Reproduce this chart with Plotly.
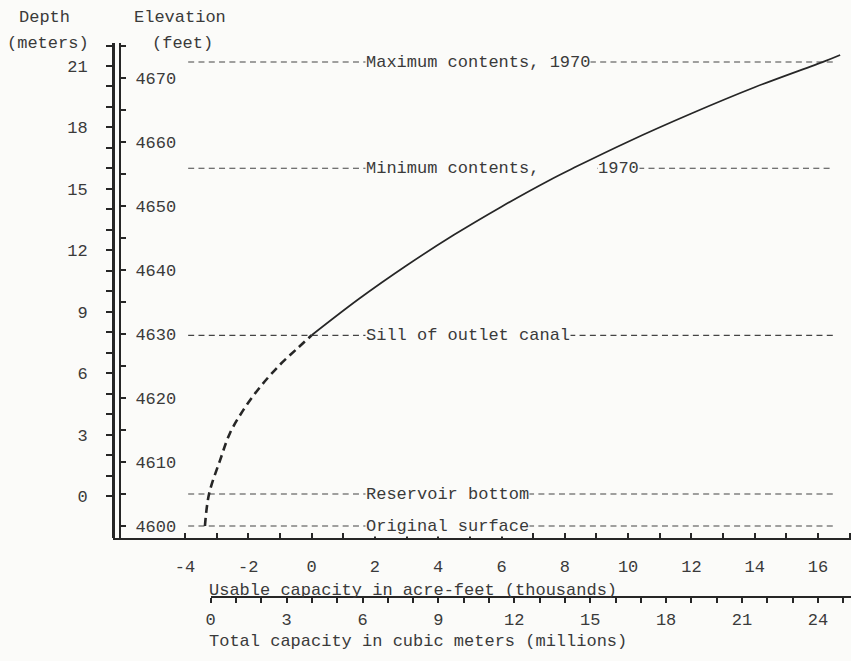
import plotly.graph_objects as go

# ---------------- data ----------------
# capacity curve: usable capacity (thousand acre-feet) vs elevation (feet)
usable_dashed = [-3.37, -3.24, -2.89, -2.58, -2.16, -1.63, -1.00, -0.46, 0.0]
elev_dashed = [4600.0, 4605.0, 4610.3, 4614.5, 4618.1, 4621.7, 4625.2, 4627.7, 4629.8]

usable_solid = [0.0, 1.5, 3.0, 4.5, 6.0, 7.5, 8.3, 10.0, 12.0, 14.0, 16.2, 16.7]
elev_solid = [4629.8, 4635.5, 4640.7, 4645.5, 4649.9, 4654.0, 4656.0, 4660.05, 4664.45, 4668.55, 4672.6, 4673.6]

# reference levels (elevation, feet)
ref_labels = ["Maximum contents, 1970", "Minimum contents,", "Sill of outlet canal",
              "Reservoir bottom", "Original surface"]
ref_elev = [4672.5, 4655.9, 4629.8, 4605.0, 4600.0]
ref_extra_label = "1970"          # second part of the minimum-contents label
ref_start, ref_end = -3.9, 16.5   # extent of the reference lines (usable capacity)

# ticks
usable_ticks = list(range(-4, 18))
usable_ticktext = [str(v) if v % 2 == 0 else "" for v in usable_ticks]
total_ticks = list(range(0, 26))
total_ticktext = [str(v) if v % 3 == 0 else "" for v in total_ticks]
elev_ticks = list(range(4600, 4680, 5))
elev_ticktext = [str(v) if v % 10 == 0 else "" for v in elev_ticks]
depth_ticks = list(range(0, 23))
depth_ticktext = [str(v) if v % 3 == 0 else "" for v in depth_ticks]

# ---------------- geometry ----------------
W, H = 851, 661
ML, MR, MT, MB = 113, 0, 43, 64
PW = W - ML - MR
PH = H - MT - MB
plot_bottom_px = 538
ydom0 = (H - MB - plot_bottom_px) / PH

u0_px, u_scale = 311.6, 31.65          # usable 0 pixel, px per unit
e0_px, e_scale = 526.0, 6.4            # elevation 4600 pixel, px per foot
d0_px, d_scale = 496.0, 20.476         # depth 0 pixel, px per metre
t0_px, t_scale = 210.7, 25.30          # total 0 pixel, px per unit

x_range = [(ML - u0_px) / u_scale, (W - MR - u0_px) / u_scale]
e_range = [4600 - (plot_bottom_px - e0_px) / e_scale, 4600 + (e0_px - MT) / e_scale]
d_range = [-(plot_bottom_px - d0_px) / d_scale, (d0_px - MT) / d_scale]
t_range = [0, (W - MR - t0_px) / t_scale]
x2_dom0 = (t0_px - ML) / PW


def px_x(px):
    return (px - ML) / PW


def px_y(py):
    return (H - MB - py) / PH


BG = "#fbfbf9"
INK = "#3a3a3a"
LINE = "#262626"
FONT = dict(family="Liberation Mono, Courier New, monospace", size=17, color=INK)

fig = go.Figure()

label_x = (365 - u0_px) / u_scale
extra_x = (597 - u0_px) / u_scale
DASH = dict(color="#444444", width=1.2, dash="6px,4.3px")

# reference dashed lines
for i, e in enumerate(ref_elev):
    if i == 1:
        # minimum contents: gap between "contents," and "1970"
        fig.add_trace(go.Scatter(x=[ref_start, label_x + 0.5], y=[e, e], mode="lines",
                                 line=DASH, hoverinfo="skip", showlegend=False))
        fig.add_trace(go.Scatter(x=[extra_x, ref_end], y=[e, e], mode="lines",
                                 line=DASH, hoverinfo="skip", showlegend=False))
    else:
        fig.add_trace(go.Scatter(x=[ref_start, ref_end], y=[e, e], mode="lines",
                                 line=DASH, hoverinfo="skip", showlegend=False))

# capacity curve
fig.add_trace(go.Scatter(x=usable_dashed, y=elev_dashed, mode="lines",
                         line=dict(color=LINE, width=2.6, dash="8px,5px", shape="spline"),
                         showlegend=False))
fig.add_trace(go.Scatter(x=usable_solid, y=elev_solid, mode="lines",
                         line=dict(color=LINE, width=1.7, shape="spline"),
                         showlegend=False))

# dummy traces to activate secondary axes
fig.add_trace(go.Scatter(x=[None], y=[None], xaxis="x", yaxis="y2",
                         showlegend=False, hoverinfo="skip"))
fig.add_trace(go.Scatter(x=[None], y=[None], xaxis="x2", yaxis="y",
                         showlegend=False, hoverinfo="skip"))

annotations = []
for lab, e in zip(ref_labels, ref_elev):
    annotations.append(dict(x=label_x, y=e, xref="x", yref="y", text=lab, showarrow=False,
                            xanchor="left", yanchor="middle", font=FONT, bgcolor=BG,
                            borderpad=0, yshift=0))
annotations.append(dict(x=extra_x, y=ref_elev[1], xref="x", yref="y",
                        text=ref_extra_label, showarrow=False, xanchor="left",
                        yanchor="middle", font=FONT, bgcolor=BG, borderpad=0, yshift=0))

# axis titles (typed text)
annotations += [
    dict(x=px_x(44), y=px_y(17), xref="paper", yref="paper", text="Depth",
         showarrow=False, xanchor="center", yanchor="middle", font=FONT),
    dict(x=px_x(48), y=px_y(43), xref="paper", yref="paper", text="(meters)",
         showarrow=False, xanchor="center", yanchor="middle", font=FONT),
    dict(x=px_x(180), y=px_y(17), xref="paper", yref="paper", text="Elevation",
         showarrow=False, xanchor="center", yanchor="middle", font=FONT),
    dict(x=px_x(182), y=px_y(43), xref="paper", yref="paper", text="(feet)",
         showarrow=False, xanchor="center", yanchor="middle", font=FONT),
    dict(x=px_x(207), y=px_y(590), xref="paper", yref="paper",
         text="Usable capacity in acre-feet (thousands)",
         showarrow=False, xanchor="left", yanchor="middle", font=FONT),
    dict(x=px_x(207), y=px_y(641), xref="paper", yref="paper",
         text="Total capacity in cubic meters (millions)",
         showarrow=False, xanchor="left", yanchor="middle", font=FONT),
]

fig.update_layout(
    width=W, height=H,
    margin=dict(l=ML, r=MR, t=MT, b=MB, pad=0),
    paper_bgcolor=BG, plot_bgcolor="rgba(0,0,0,0)",
    font=FONT,
    showlegend=False,
    xaxis=dict(range=x_range, domain=[0, 1], anchor="y", showgrid=False, zeroline=False,
               showline=True, linecolor=LINE, linewidth=2,
               tickmode="array", tickvals=usable_ticks, ticktext=usable_ticktext,
               ticks="inside", ticklen=5, tickwidth=1.5, tickcolor=LINE,
               ticklabelstandoff=12, tickfont=FONT),
    xaxis2=dict(range=t_range, domain=[x2_dom0, 1], anchor="free", position=0,
                side="bottom", showgrid=False, zeroline=False,
                showline=True, linecolor=LINE, linewidth=2,
                tickmode="array", tickvals=total_ticks, ticktext=total_ticktext,
                ticks="outside", ticklen=5, tickwidth=1.5, tickcolor=LINE,
                ticklabelstandoff=2, tickfont=FONT),
    yaxis=dict(range=e_range, domain=[ydom0, 1], anchor="free", position=px_x(120),
               side="right", showgrid=False, zeroline=False,
               showline=True, linecolor=LINE, linewidth=2,
               tickmode="array", tickvals=elev_ticks, ticktext=elev_ticktext,
               ticks="outside", ticklen=5, tickwidth=1.5, tickcolor=LINE,
               ticklabelstandoff=6, tickfont=FONT),
    yaxis2=dict(range=d_range, domain=[ydom0, 1], anchor="free", position=0,
                overlaying="y", side="left", showgrid=False, zeroline=False,
                showline=True, linecolor=LINE, linewidth=3,
                tickmode="array", tickvals=depth_ticks, ticktext=depth_ticktext,
                ticks="outside", ticklen=6, tickwidth=2, tickcolor=LINE,
                ticklabelstandoff=15, tickfont=FONT),
    annotations=annotations,
)

fig.write_html("out.html")
